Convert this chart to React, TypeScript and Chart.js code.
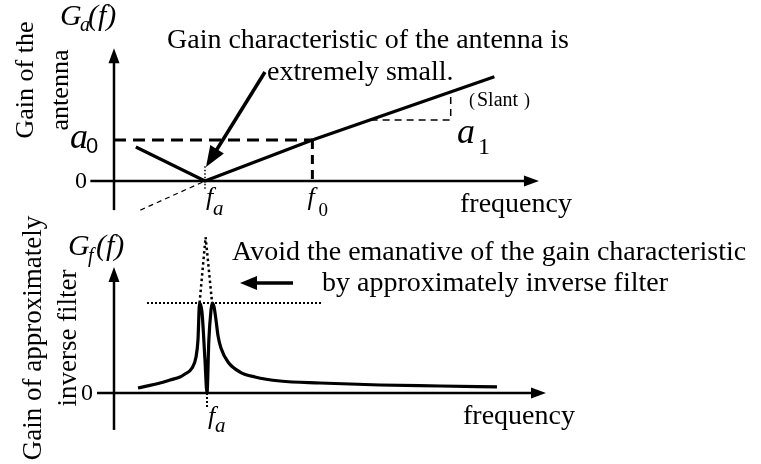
import { useEffect, useRef } from "react";
import { Chart, registerables } from "chart.js";

Chart.register(...registerables);

const WIDTH = 761;
const HEIGHT = 464;

// ---- Upper panel: gain of the antenna G_a(f) ----
const FA = 1.0; // frequency f_a where the gain vanishes
const F0 = 2.18; // reference frequency f_0
const A0 = 1.0; // gain a_0 at f_0
const antennaFreq = [0.24, FA, F0, 4.18];
const antennaGain = [0.83, 0, A0, 2.54];
const extensionFreq = [0.29, FA];
const extensionGain = [-0.71, 0];
const slantFreq = [2.82, 3.7, 3.7];
const slantGain = [1.49, 1.49, 2.17];
const faMarkGainTop = [0.36, -0.22];

// ---- Lower panel: gain of the approximately inverse filter G_f(f) ----
const filterFreq = [
  0.258, 0.495, 0.602, 0.71, 0.763, 0.839, 0.882, 0.903, 0.92, 0.946, 0.978, 1.0,
  1.02, 1.043, 1.055, 1.075, 1.097, 1.118, 1.15, 1.226, 1.355, 1.516, 1.785, 2.215,
  2.86, 3.505, 4.118,
];
const filterGain = [
  0.056, 0.111, 0.144, 0.178, 0.211, 0.278, 0.4, 0.59, 1.0, 0.9, 0.37, 0, 0.59,
  0.92, 1.0, 0.96, 0.81, 0.64, 0.5, 0.344, 0.233, 0.178, 0.133, 0.111, 0.089,
  0.078, 0.067,
];
const PEAK = 1.0; // clipped peak level
const clipFreq = [0.355, 2.237];
const unclippedFreq = [0.92, 0.985, 1.055];
const unclippedGain = [PEAK, 1.733, PEAK];
const faMarkGainBottom = [0, -0.167];

// Visible ranges of the hidden scales
const topFreqRange = [-1.2527, 7.1099];
const topGainRange = [-6.9024, 4.4146];
const botFreqRange = [-1.2258, 6.957];
const botGainRange = [-0.7889, 4.3667];

// Axis extents (in data units)
const topXAxis = [-0.26, 4.67];
const topYAxis = [-0.71, 3.24];
const botXAxis = [-0.183, 4.645];
const botYAxis = [-0.41, 1.4];

// Pointer arrows [fromFreq, fromGain, toFreq, toGain]
const topPointer = [1.659, 2.659, 1.011, 0.341];
const botPointer = [1.925, 1.222, 1.355, 1.222];

const SERIF = '"Liberation Serif", "Times New Roman", serif';
const SANS = '"Liberation Sans", Arial, sans-serif';

const zip = (xs: number[], ys: number[]) => xs.map((x, i) => ({ x, y: ys[i] }));

function line(
  data: { x: number; y: number }[],
  xAxisID: string,
  yAxisID: string,
  width: number,
  dash: number[] = [],
  smooth = false
) {
  return {
    data,
    xAxisID,
    yAxisID,
    showLine: true,
    fill: false,
    borderColor: "#000",
    backgroundColor: "#000",
    borderWidth: width,
    borderDash: dash,
    pointRadius: 0,
    pointHoverRadius: 0,
    borderCapStyle: "butt",
    borderJoinStyle: "miter",
    cubicInterpolationMode: smooth ? "monotone" : "default",
    tension: 0,
    clip: false,
  };
}

function head(
  ctx: CanvasRenderingContext2D,
  fx: number,
  fy: number,
  tx: number,
  ty: number,
  len: number,
  half: number
) {
  const d = Math.hypot(tx - fx, ty - fy);
  const ux = (tx - fx) / d;
  const uy = (ty - fy) / d;
  const bx = tx - ux * len;
  const by = ty - uy * len;
  ctx.beginPath();
  ctx.moveTo(tx, ty);
  ctx.lineTo(bx - uy * half, by + ux * half);
  ctx.lineTo(bx + uy * half, by - ux * half);
  ctx.closePath();
  ctx.fill();
}

function arrow(
  ctx: CanvasRenderingContext2D,
  fx: number,
  fy: number,
  tx: number,
  ty: number,
  width: number,
  len: number,
  half: number
) {
  const d = Math.hypot(tx - fx, ty - fy);
  const ux = (tx - fx) / d;
  const uy = (ty - fy) / d;
  ctx.lineWidth = width;
  ctx.setLineDash([]);
  ctx.beginPath();
  ctx.moveTo(fx, fy);
  ctx.lineTo(tx - ux * len * 0.7, ty - uy * len * 0.7);
  ctx.stroke();
  head(ctx, fx, fy, tx, ty, len, half);
}

function text(
  ctx: CanvasRenderingContext2D,
  s: string,
  x: number,
  y: number,
  font: string,
  align: CanvasTextAlign = "left",
  baseline: CanvasTextBaseline = "alphabetic"
) {
  ctx.font = font;
  ctx.textAlign = align;
  ctx.textBaseline = baseline;
  ctx.fillText(s, x, y);
}

function vtext(ctx: CanvasRenderingContext2D, s: string, x: number, cy: number, font: string) {
  ctx.save();
  ctx.translate(x, cy);
  ctx.rotate(-Math.PI / 2);
  text(ctx, s, 0, 0, font, "center", "alphabetic");
  ctx.restore();
}

const diagramPlugin = {
  id: "diagram",
  beforeDatasetsDraw(chart: any) {
    const ctx: CanvasRenderingContext2D = chart.ctx;
    const s = chart.scales;
    ctx.save();
    ctx.fillStyle = "#000";
    ctx.strokeStyle = "#000";
    const panels = [
      { x: s.x, y: s.y, xa: topXAxis, ya: topYAxis },
      { x: s.x2, y: s.y2, xa: botXAxis, ya: botYAxis },
    ];
    for (const p of panels) {
      const y0 = p.y.getPixelForValue(0);
      const x0 = p.x.getPixelForValue(0);
      arrow(ctx, p.x.getPixelForValue(p.xa[0]), y0, p.x.getPixelForValue(p.xa[1]), y0, 2.5, 15, 5.5);
      arrow(ctx, x0, p.y.getPixelForValue(p.ya[0]), x0, p.y.getPixelForValue(p.ya[1]), 2.5, 15, 5.5);
    }
    ctx.restore();
  },
  afterDatasetsDraw(chart: any) {
    const ctx: CanvasRenderingContext2D = chart.ctx;
    const s = chart.scales;
    ctx.save();
    ctx.fillStyle = "#000";
    ctx.strokeStyle = "#000";

    // pointer arrows
    arrow(
      ctx,
      s.x.getPixelForValue(topPointer[0]),
      s.y.getPixelForValue(topPointer[1]),
      s.x.getPixelForValue(topPointer[2]),
      s.y.getPixelForValue(topPointer[3]),
      3.5,
      21,
      8
    );
    arrow(
      ctx,
      s.x2.getPixelForValue(botPointer[0]),
      s.y2.getPixelForValue(botPointer[1]),
      s.x2.getPixelForValue(botPointer[2]),
      s.y2.getPixelForValue(botPointer[3]),
      3.5,
      17,
      7
    );

    const body = `28px ${SERIF}`;

    // ---- upper panel text ----
    vtext(ctx, "Gain of the", 33, 80, `26px ${SERIF}`);
    vtext(ctx, "antenna", 68, 90, `26px ${SERIF}`);
    text(ctx, "G", 60, 25, `italic 30px ${SERIF}`);
    text(ctx, "a", 80, 31, `italic 20px ${SERIF}`);
    text(ctx, "(f)", 88, 25, `italic 30px ${SERIF}`);
    text(ctx, "Gain characteristic of the antenna is", 167, 48, body);
    text(ctx, "extremely small.", 267, 80, body);
    // slant note with wide brackets
    text(ctx, "(", 469, 106, `18px ${SERIF}`);
    text(ctx, "Slant", 477, 106, `20px ${SERIF}`);
    text(ctx, ")", 524, 106, `18px ${SERIF}`);
    text(ctx, "a", 70, 148, `italic 36px ${SERIF}`);
    text(ctx, "0", 86, 153, `22px ${SANS}`);
    text(ctx, "a", 457, 143, `italic 36px ${SERIF}`);
    text(ctx, "1", 478, 154, `24px ${SERIF}`);
    text(ctx, "0", 87, 182, `24px ${SERIF}`, "right", "middle");
    const fa1 = s.x.getPixelForValue(FA);
    const f01 = s.x.getPixelForValue(F0);
    text(ctx, "f", fa1 + 1, 205, `italic 26px ${SERIF}`);
    text(ctx, "a", fa1 + 8, 215, `italic 21px ${SERIF}`);
    text(ctx, "f", f01 - 5, 205, `italic 26px ${SERIF}`);
    text(ctx, "0", f01 + 6, 216, `19px ${SERIF}`);
    text(ctx, "frequency", 460, 212, body);

    // ---- lower panel text ----
    vtext(ctx, "Gain of approximately", 41, 338, `27px ${SERIF}`);
    vtext(ctx, "inverse filter", 76, 338, `27px ${SERIF}`);
    text(ctx, "G", 68, 255, `italic 30px ${SERIF}`);
    text(ctx, "f", 88, 262, `italic 20px ${SERIF}`);
    text(ctx, "(f)", 96, 255, `italic 30px ${SERIF}`);
    text(ctx, "Avoid the emanative of the gain characteristic", 232, 260, body);
    text(ctx, "by approximately inverse filter", 322, 291, body);
    text(ctx, "0", 93, 394, `24px ${SERIF}`, "right", "middle");
    const fa2 = s.x2.getPixelForValue(FA);
    text(ctx, "f", fa2 + 1, 424, `italic 26px ${SERIF}`);
    text(ctx, "a", fa2 + 8, 432, `italic 21px ${SERIF}`);
    text(ctx, "frequency", 463, 424, body);

    ctx.restore();
  },
};

export default function App() {
  const ref = useRef<HTMLCanvasElement>(null);

  useEffect(() => {
    if (!ref.current) return;
    const datasets: any[] = [
      // upper panel
      line(zip([0, F0], [A0, A0]), "x", "y", 3, [12, 7]),
      line(zip([F0, F0], [A0, 0]), "x", "y", 3, [9, 6]),
      line(zip(extensionFreq, extensionGain), "x", "y", 1.2, [5, 4]),
      line(zip(slantFreq, slantGain), "x", "y", 1.5, [7, 5]),
      line(zip([FA, FA], faMarkGainTop), "x", "y", 1.5, [1.5, 2]),
      line(zip(antennaFreq, antennaGain), "x", "y", 3.2),
      // lower panel
      line(zip(clipFreq, [PEAK, PEAK]), "x2", "y2", 2, [2, 2]),
      line(zip(unclippedFreq, unclippedGain), "x2", "y2", 2.5, [2.5, 3]),
      line(zip([FA, FA], faMarkGainBottom), "x2", "y2", 2, [2, 2]),
      line(zip(filterFreq, filterGain), "x2", "y2", 3.2, [], true),
    ];
    const chart = new Chart(ref.current, {
      type: "scatter",
      data: { datasets },
      options: {
        responsive: false,
        maintainAspectRatio: false,
        animation: false,
        devicePixelRatio: 1,
        events: [],
        layout: { padding: 0 },
        plugins: { legend: { display: false }, tooltip: { enabled: false } },
        scales: {
          x: { type: "linear", display: false, min: topFreqRange[0], max: topFreqRange[1] },
          y: { type: "linear", display: false, min: topGainRange[0], max: topGainRange[1] },
          x2: { type: "linear", axis: "x", display: false, min: botFreqRange[0], max: botFreqRange[1] },
          y2: { type: "linear", axis: "y", display: false, min: botGainRange[0], max: botGainRange[1] },
        },
      } as any,
      plugins: [diagramPlugin],
    });
    return () => chart.destroy();
  }, []);

  return (
    <div
      style={{
        position: "fixed",
        left: 0,
        top: 0,
        width: WIDTH,
        height: HEIGHT,
        background: "#fff",
      }}
    >
      <canvas ref={ref} width={WIDTH} height={HEIGHT} style={{ display: "block" }} />
    </div>
  );
}
